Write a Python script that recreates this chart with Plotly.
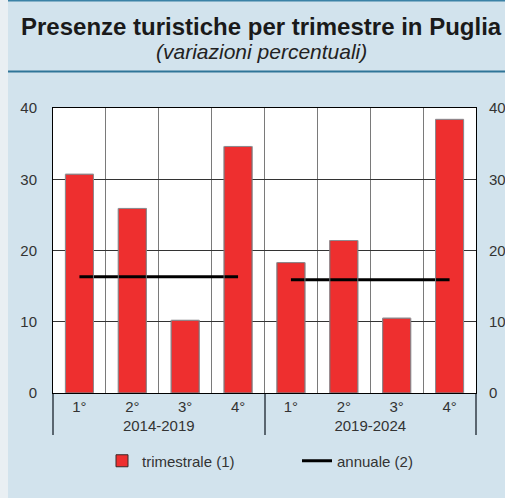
import plotly.graph_objects as go

periods = ["2014-2019", "2014-2019", "2014-2019", "2014-2019",
           "2019-2024", "2019-2024", "2019-2024", "2019-2024"]
quarters = ["1°", "2°", "3°", "4°", "1°", "2°", "3°", "4°"]
trimestrale = [30.7, 25.9, 10.2, 34.6, 18.3, 21.4, 10.5, 38.4]

annual_periods = ["2014-2019", "2019-2024"]
annuale = [16.3, 15.9]

title = "Presenze turistiche per trimestre in Puglia"
subtitle = "(variazioni percentuali)"

W, H = 505, 498
ML, MR, MT, MB = 53, 29, 108, 105
PW = W - ML - MR
PH = H - MT - MB

def py(p):
    return (H - MB - p) / PH

def px(p):
    return (p - ML) / PW

BG = "#d2e3ed"
RED = "#ee2f2f"
TXT = "#333333"
FS = 15

fig = go.Figure()
fig.add_trace(go.Bar(
    x=[periods, quarters], y=trimestrale, name="trimestrale (1)",
    marker=dict(color=RED, line=dict(color="#3a2a2a", width=1)),
    width=0.53,
))
for i, per in enumerate(annual_periods):
    fig.add_trace(go.Scatter(
        x=[[per, per], ["1°", "4°"]], y=[annuale[i], annuale[i]],
        mode="lines", line=dict(color="black", width=3),
        name="annuale (2)", showlegend=(i == 0), legendgroup="ann",
    ))
fig.add_trace(go.Bar(
    x=[periods, quarters], y=trimestrale, yaxis="y2",
    marker=dict(color="rgba(0,0,0,0)"), showlegend=False, hoverinfo="skip",
    width=0.53,
))

fig.update_layout(
    width=W, height=H,
    margin=dict(l=ML, r=MR, t=MT, b=MB, autoexpand=False),
    paper_bgcolor=BG, plot_bgcolor="white",
    font=dict(family="Liberation Sans, Arial, sans-serif", size=FS, color=TXT),
    barmode="overlay",
    showlegend=True,
    legend=dict(orientation="h", x=px(297), xanchor="center", y=py(461), yanchor="middle",
                bgcolor="rgba(0,0,0,0)", font=dict(size=FS, color=TXT),
                entrywidth=150, traceorder="normal"),
    xaxis=dict(
        type="multicategory", tickson="boundaries", showgrid=True,
        gridcolor="#7a7a7a", gridwidth=1,
        showline=True, linecolor="black", linewidth=1, mirror=True,
        showdividers=True, dividercolor="#5a6670", dividerwidth=1.5,
        ticks="", tickfont=dict(size=FS, color=TXT), automargin=False,
    ),
    yaxis=dict(
        range=[0, 40], dtick=10, showgrid=True, gridcolor="#333333", gridwidth=1,
        showline=True, linecolor="black", linewidth=1, mirror=True,
        zeroline=False, ticks="", ticklabelstandoff=12,
        tickfont=dict(size=FS, color=TXT), automargin=False,
    ),
    yaxis2=dict(
        range=[0, 40], dtick=10, overlaying="y", side="right", showgrid=False,
        zeroline=False, ticks="", ticklabelstandoff=12,
        tickfont=dict(size=FS, color=TXT), automargin=False,
    ),
    shapes=[
        dict(type="rect", xref="paper", yref="paper", x0=px(0), x1=px(8), y0=py(H), y1=py(0),
             fillcolor="#e9eff3", line=dict(width=0), layer="below"),
        dict(type="line", xref="paper", yref="paper", x0=px(8), x1=px(W), y0=py(0.8), y1=py(0.8),
             line=dict(color="#3b82a6", width=1.5)),
        dict(type="line", xref="paper", yref="paper", x0=px(8), x1=px(W), y0=py(71.5), y1=py(71.5),
             line=dict(color="#2f7598", width=2)),
    ],
    annotations=[
        dict(text="<b>" + title + "</b>", xref="paper", yref="paper", x=px(261), y=py(26),
             xanchor="center", yanchor="middle", showarrow=False,
             font=dict(size=24, color="#1a1a1a")),
        dict(text="<i>" + subtitle + "</i>", xref="paper", yref="paper", x=px(261), y=py(51),
             xanchor="center", yanchor="middle", showarrow=False,
             font=dict(size=21, color="#222222")),
    ],
)

fig.write_html("out.html", config={"displayModeBar": False},
               post_script="document.body.style.margin='0';document.body.style.overflow='hidden';")
